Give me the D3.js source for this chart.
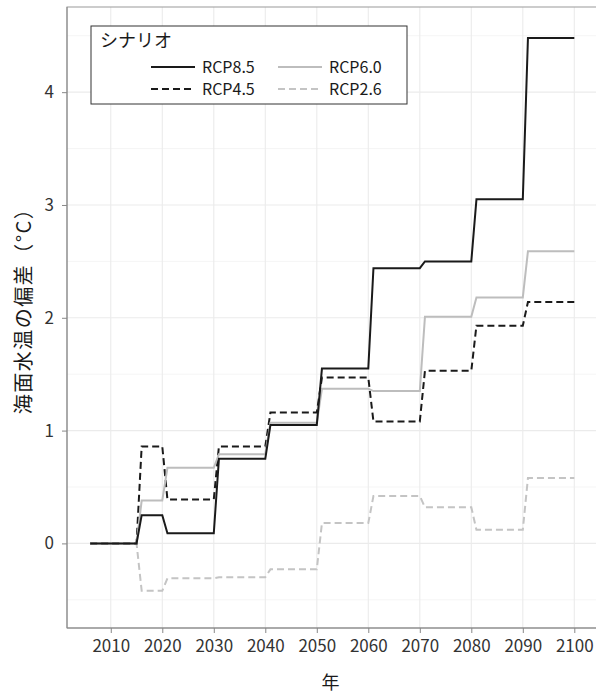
<!DOCTYPE html>
<html lang="ja">
<head>
    <meta charset="UTF-8">
    <title>海面水温の偏差</title>
    <style>
        body {
            margin: 0;
            padding: 0;
            background-color: #ffffff;
            font-family: "Noto Sans CJK JP", "Noto Sans", sans-serif;
        }
        .grid-major {
            stroke: #ebebeb;
            stroke-width: 1.1px;
        }
        .grid-minor {
            stroke: #f2f2f2;
            stroke-width: 0.8px;
        }
        .axis path, .axis line {
            stroke: #888888;
        }
    </style>
</head>
<body>
    <div id="chart"></div>

    <script src="https://d3js.org/d3.v7.min.js"></script>
    <script>
        // period boundaries (years)
        const periodStart = [2006, 2016, 2021, 2031, 2041, 2051, 2061, 2071, 2081, 2091];
        const periodEnd   = [2015, 2020, 2030, 2040, 2050, 2060, 2070, 2080, 2090, 2100];

        // anomaly per period (°C)
        const rcp85 = [0, 0.25, 0.09, 0.75, 1.05, 1.55, 2.44, 2.50, 3.05, 4.48];
        const rcp60 = [0, 0.38, 0.67, 0.79, 1.07, 1.37, 1.35, 2.01, 2.18, 2.59];
        const rcp45 = [0, 0.86, 0.39, 0.86, 1.16, 1.47, 1.08, 1.53, 1.93, 2.14];
        const rcp26 = [0, -0.42, -0.31, -0.30, -0.23, 0.18, 0.42, 0.32, 0.12, 0.58];

        const xTicks = [2010, 2020, 2030, 2040, 2050, 2060, 2070, 2080, 2090, 2100];
        const yTicks = [0, 1, 2, 3, 4];
        const yMinor = [-0.5, 0.5, 1.5, 2.5, 3.5, 4.5];

        const series = [
            { name: "RCP2.6", values: rcp26, color: "#c4c4c4", dash: "7,4" },
            { name: "RCP4.5", values: rcp45, color: "#1a1a1a", dash: "7,4" },
            { name: "RCP6.0", values: rcp60, color: "#bdbdbd", dash: null },
            { name: "RCP8.5", values: rcp85, color: "#1a1a1a", dash: null }
        ];

        const width = 596, height = 693;
        const pL = 67, pR = 598, pT = 7, pB = 628;

        const svg = d3.select("#chart")
            .append("svg")
            .attr("width", width)
            .attr("height", height);

        const x = d3.scaleLinear().domain([2001.5, 2104.6]).range([pL, pR]);
        const y = d3.scaleLinear().domain([-0.75, 4.755]).range([pB, pT]);

        // grid
        svg.append("g").selectAll("line")
            .data(yMinor).enter().append("line")
            .attr("class", "grid-minor")
            .attr("x1", pL).attr("x2", pR)
            .attr("y1", d => y(d)).attr("y2", d => y(d));

        svg.append("g").selectAll("line")
            .data(yTicks).enter().append("line")
            .attr("class", "grid-major")
            .attr("x1", pL).attr("x2", pR)
            .attr("y1", d => y(d)).attr("y2", d => y(d));

        svg.append("g").selectAll("line")
            .data(xTicks).enter().append("line")
            .attr("class", "grid-major")
            .attr("x1", d => x(d)).attr("x2", d => x(d))
            .attr("y1", pT).attr("y2", pB);

        // panel border
        svg.append("rect")
            .attr("x", pL).attr("y", pT)
            .attr("width", pR - pL).attr("height", pB - pT)
            .attr("fill", "none")
            .attr("stroke", "#999999")
            .attr("stroke-width", 1);

        // step lines built from period start/end
        const line = d3.line().x(d => x(d[0])).y(d => y(d[1]));

        series.forEach(s => {
            const pts = [];
            s.values.forEach((v, i) => {
                pts.push([periodStart[i], v]);
                pts.push([periodEnd[i], v]);
            });
            svg.append("path")
                .datum(pts)
                .attr("fill", "none")
                .attr("stroke", s.color)
                .attr("stroke-width", 2)
                .attr("stroke-dasharray", s.dash)
                .attr("d", line);
        });

        // axes
        const styleTicks = g => g.selectAll(".tick text")
            .attr("fill", "#333333")
            .style("font-size", "17px")
            .style("font-family", "'Noto Sans CJK JP', 'Noto Sans', sans-serif");

        svg.append("g")
            .attr("class", "axis")
            .attr("transform", `translate(0,${pB})`)
            .call(d3.axisBottom(x).tickValues(xTicks).tickFormat(d3.format("d")).tickSize(5).tickPadding(7).tickSizeOuter(0))
            .call(g => g.select(".domain").attr("d", `M${pL},0H${pR}`))
            .call(styleTicks);

        svg.append("g")
            .attr("class", "axis")
            .attr("transform", `translate(${pL},0)`)
            .call(d3.axisLeft(y).tickValues(yTicks).tickFormat(d3.format("d")).tickSize(5).tickPadding(8).tickSizeOuter(0))
            .call(g => g.select(".domain").attr("d", `M0,${pT}V${pB}`))
            .call(styleTicks);

        // axis titles
        svg.append("text")
            .attr("x", (pL + pR) / 2 - 2)
            .attr("y", 689)
            .attr("text-anchor", "middle")
            .attr("font-size", 18)
            .attr("fill", "#1a1a1a")
            .text("年");

        svg.append("text")
            .attr("transform", `translate(31,306) rotate(-90)`)
            .attr("text-anchor", "middle")
            .attr("font-size", 20)
            .attr("letter-spacing", 1.5)
            .attr("fill", "#1a1a1a")
            .text("海面水温の偏差（°C）");

        // legend
        const legend = svg.append("g");
        legend.append("rect")
            .attr("x", 91).attr("y", 26)
            .attr("width", 316).attr("height", 78)
            .attr("fill", "#ffffff")
            .attr("stroke", "#333333")
            .attr("stroke-width", 1);

        legend.append("text")
            .attr("x", 100).attr("y", 47)
            .attr("font-size", 18)
            .attr("fill", "#1a1a1a")
            .text("シナリオ");

        const legendItems = [
            { s: series[3], col: 0, row: 0 },
            { s: series[1], col: 0, row: 1 },
            { s: series[2], col: 1, row: 0 },
            { s: series[0], col: 1, row: 1 }
        ];
        const colX = [151, 278], rowY = [67, 89];

        legendItems.forEach(it => {
            const lx = colX[it.col], ly = rowY[it.row];
            legend.append("line")
                .attr("x1", lx).attr("x2", lx + 44)
                .attr("y1", ly).attr("y2", ly)
                .attr("stroke", it.s.color)
                .attr("stroke-width", 2.2)
                .attr("stroke-dasharray", it.s.dash);
            legend.append("text")
                .attr("x", lx + 51).attr("y", ly + 6)
                .attr("font-size", 16)
                .attr("fill", "#1a1a1a")
                .text(it.s.name);
        });
    </script>
</body>
</html>
